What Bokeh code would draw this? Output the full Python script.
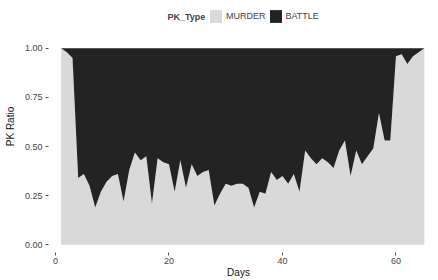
from bokeh.plotting import figure
from bokeh.models import (Range1d, FixedTicker, Legend, LegendItem, Label,
                          ColumnDataSource, NumeralTickFormatter)
from bokeh.embed import file_html
from bokeh.resources import INLINE

# ---- data ----
days = list(range(1, 66))
murder = [1.00, 0.98, 0.95, 0.34, 0.36, 0.30, 0.19, 0.27, 0.32, 0.35,
          0.36, 0.22, 0.38, 0.47, 0.43, 0.45, 0.21, 0.44, 0.42, 0.41,
          0.27, 0.43, 0.29, 0.41, 0.35, 0.37, 0.38, 0.20, 0.26, 0.31,
          0.30, 0.31, 0.31, 0.29, 0.19, 0.27, 0.26, 0.37, 0.33, 0.35,
          0.31, 0.36, 0.27, 0.48, 0.44, 0.41, 0.44, 0.42, 0.39, 0.48,
          0.53, 0.35, 0.48, 0.41, 0.45, 0.49, 0.67, 0.53, 0.53, 0.96,
          0.97, 0.92, 0.96, 0.98, 1.00]
battle = [round(1 - m, 2) for m in murder]
pk_types = ["MURDER", "BATTLE"]
colors = ["#d9d9d9", "#232323"]
x_ticks = [0, 20, 40, 60]
y_ticks = [0, 0.25, 0.5, 0.75, 1.0]

FONT = "Liberation Sans"

src = ColumnDataSource(dict(day=days, MURDER=murder, BATTLE=battle))

# the (invisible) frame reaches the top edge so the legend can sit inside it
p = figure(width=438, height=280, output_backend="svg", toolbar_location=None,
           x_range=Range1d(-1.23, 65.73), y_range=Range1d(-0.0397, 1.2434),
           min_border_left=48, min_border_right=10, min_border_top=0,
           min_border_bottom=28)
p.outline_line_color = None
p.grid.visible = False

rs = p.varea_stack(stackers=pk_types, x="day", color=colors, source=src)

p.xaxis.ticker = FixedTicker(ticks=x_ticks)
p.yaxis.ticker = FixedTicker(ticks=y_ticks)
p.yaxis.formatter = NumeralTickFormatter(format="0.00")
p.xaxis.axis_label = "Days"
p.yaxis.axis_label = "PK Ratio"
for ax in (p.xaxis, p.yaxis):
    ax.axis_line_color = None
    ax.major_tick_line_color = "#555555"
    ax.major_tick_in = 0
    ax.major_tick_out = 3
    ax.minor_tick_line_color = None
    ax.major_label_text_font = FONT
    ax.major_label_text_font_size = "9px"
    ax.major_label_text_color = "#444444"
    ax.axis_label_text_font = FONT
    ax.axis_label_text_font_size = "10px"
    ax.axis_label_text_font_style = "normal"
    ax.axis_label_text_color = "#111111"
p.xaxis.major_label_standoff = 2
p.xaxis.axis_label_standoff = 0
p.yaxis.major_label_standoff = 3
p.yaxis.axis_label_standoff = 6

legend = Legend(items=[LegendItem(label=pk_types[0], renderers=[rs[0]]),
                       LegendItem(label=pk_types[1], renderers=[rs[1]])],
                orientation="horizontal", location=(160, 228),
                glyph_width=15, glyph_height=16, label_text_font=FONT,
                label_text_font_size="9px", padding=0, margin=0, spacing=2,
                label_standoff=3, border_line_color=None,
                background_fill_alpha=0)
p.add_layout(legend, "center")

p.add_layout(Label(x=119, y=236, x_units="screen", y_units="screen",
                   text="PK_Type", text_font=FONT, text_font_style="bold",
                   text_font_size="9px", text_baseline="middle"))

open("out.html", "w").write(file_html(p, INLINE))
